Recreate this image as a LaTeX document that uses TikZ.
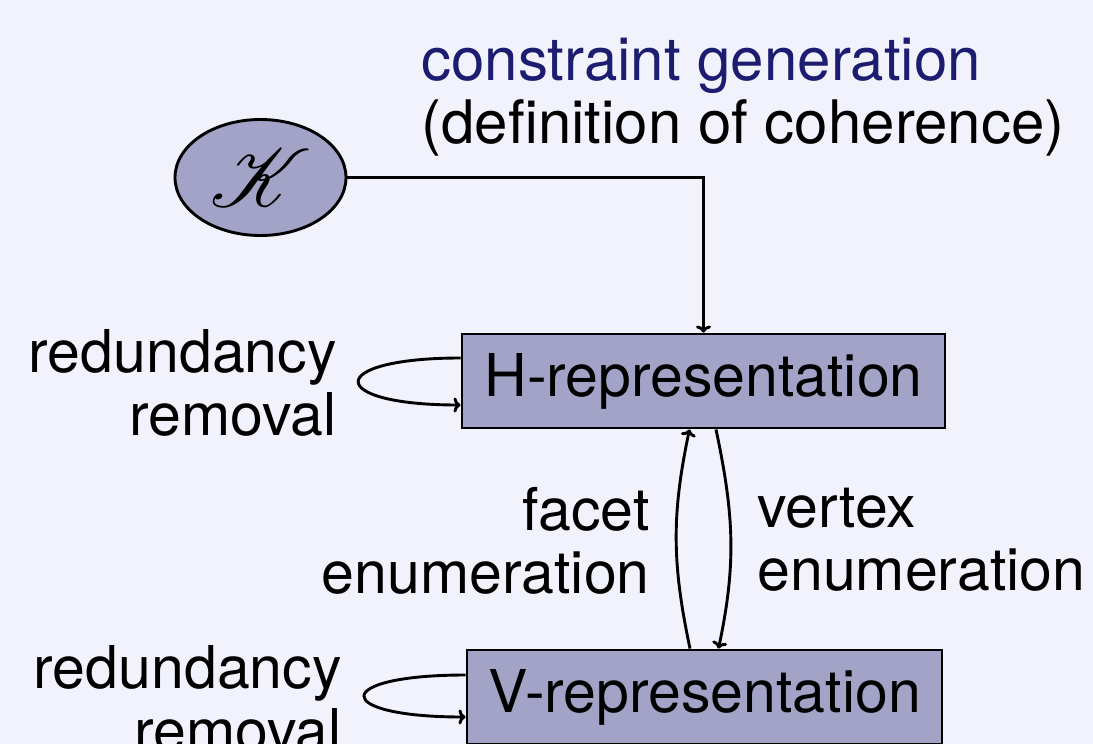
\documentclass[tikz,border=0pt]{standalone}
\usepackage{fontspec}
\setmainfont{TeX Gyre Heros}
\usepackage{mathrsfs}
\usetikzlibrary{shapes.geometric,arrows.meta}
\definecolor{bgcol}{RGB}{242,242,252}
\definecolor{boxfill}{RGB}{163,163,200}
\definecolor{navy}{RGB}{28,28,112}
\begin{document}
\begin{tikzpicture}[x=1pt,y=-1pt,line width=2.9pt,
  every node/.style={font=\fontsize{59}{63}\selectfont},
  repbox/.style={draw,fill=boxfill,rectangle,inner sep=0pt,minimum height=94pt},
  lbl/.style={inner sep=0pt},
  arr/.style={-{Computer Modern Rightarrow[length=7pt,width=15pt]}}]
\path[fill=bgcol,use as bounding box] (0,0) rectangle (1093,744);
\node[ellipse,draw,fill=boxfill,minimum width=171pt,minimum height=116pt,inner sep=0pt] (K) at (260.5,177.5) {\scalebox{3.3}{$\mathscr{K}$}};
\node[repbox,minimum width=483pt] (H) at (703.5,381) {H-representation};
\node[repbox,minimum width=475pt] (V) at (704.5,697) {V-representation};
\node[lbl,anchor=base west,align=left,font=\fontsize{60}{63}\selectfont] (T) at (420,143) {\textcolor{navy}{constraint generation}\\(definition of coherence)};
\node[lbl,anchor=base east,align=right] (R1) at (338,435) {redundancy\\removal};
\node[lbl,anchor=base east,align=right] (R2) at (343,751) {redundancy\\removal};
\node[lbl,anchor=base east,align=right] (F) at (651,593) {facet\\enumeration};
\node[lbl,anchor=base west,align=left] (VE) at (756,590) {vertex\\enumeration};
\draw[arr] (K.east) -| (H.north);
\draw[arr] ([yshift=23pt]H.west) .. controls +(-136,0) and +(-136,0) .. ([yshift=-24pt]H.west);
\draw[arr] ([yshift=22pt]V.west) .. controls +(-135,0) and +(-135,0) .. ([yshift=-20pt]V.west);
\draw[arr] ([xshift=-14.5pt]V.north) .. controls +(-18,-85) and +(-18,85) .. ([xshift=-14pt]H.south);
\draw[arr] ([xshift=12.5pt]H.south) .. controls +(18,85) and +(18,-85) .. ([xshift=14pt]V.north);
\end{tikzpicture}
\end{document}
